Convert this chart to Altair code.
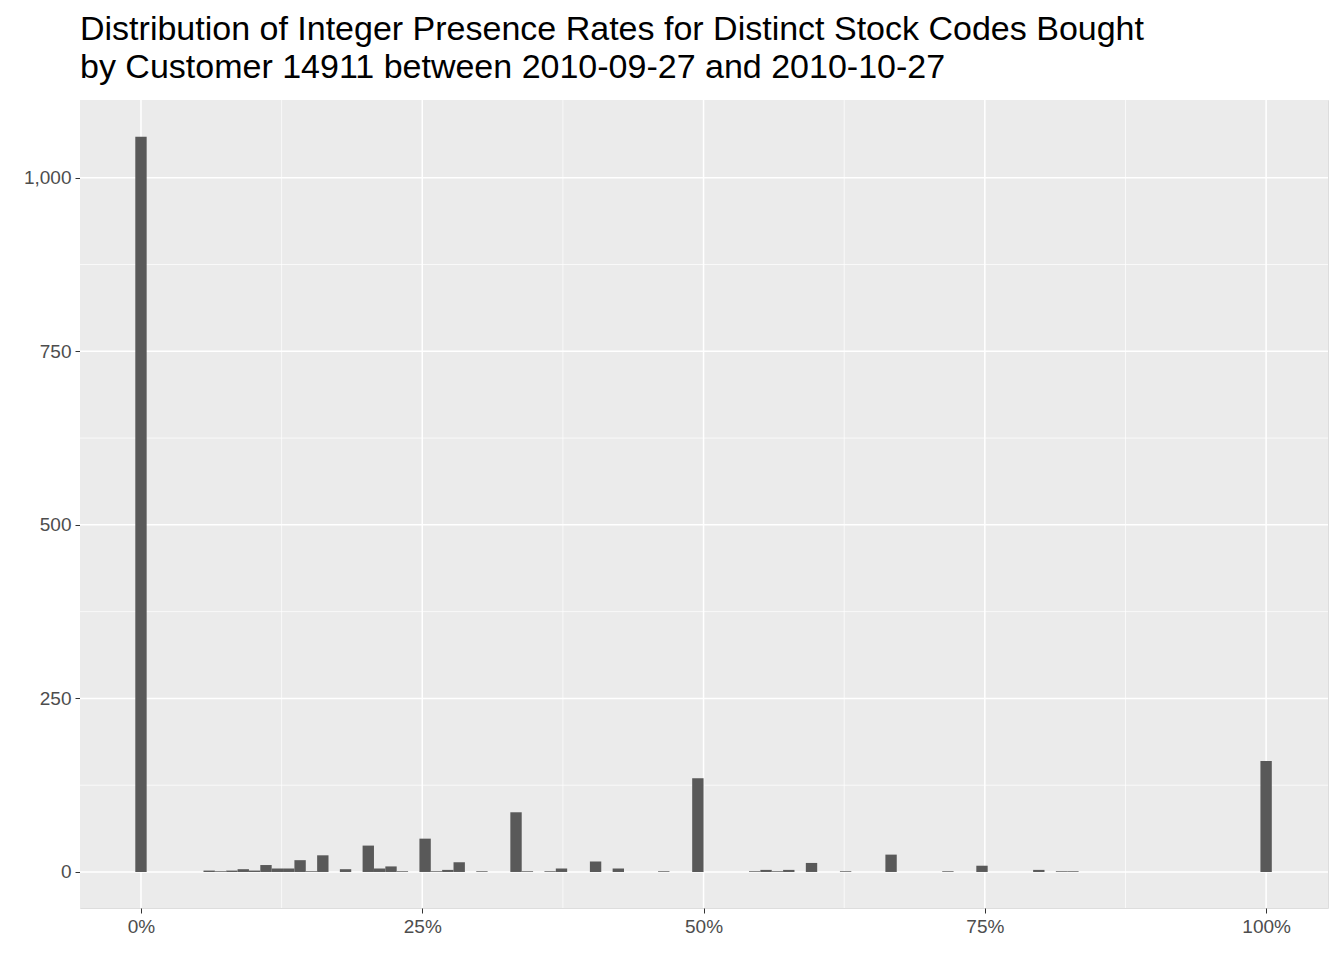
import altair as alt
import pandas as pd

bin_index = [0, 6, 7, 8, 9, 10, 11, 12, 13, 14, 15, 16, 18, 20, 21, 22, 23, 25, 26, 27, 28, 30, 33, 34,
             36, 37, 40, 42, 46, 49, 54, 55, 56, 57, 59, 62, 66, 71, 74, 79, 81, 82, 99]
counts = [1059, 2, 1, 2, 4, 2, 10, 5, 5, 17, 1, 24, 4, 38, 5, 8, 1, 48, 1, 3, 14, 1, 86, 1,
          1, 5, 15, 5, 1, 135, 1, 3, 1, 3, 13, 1, 25, 1, 9, 3, 1, 1, 160]
x_ticks = [0, 25, 50, 75, 100]
x_minor = [12.5, 37.5, 62.5, 87.5]
y_ticks = [0, 250, 500, 750, 1000]
y_minor = [125, 375, 625, 875]

w = 100 / 99
df = pd.DataFrame({"k": bin_index, "count": counts})
df["x0"] = df["k"] * w - w / 2
df["x1"] = df["k"] * w + w / 2

xs = alt.Scale(domain=[-5.42, 105.5], nice=False, zero=False)
ys = alt.Scale(domain=[-51.9, 1112], nice=False, zero=False)

xaxis = alt.Axis(values=x_ticks, labelExpr="datum.value + '%'", grid=False, title=None,
                 domain=False, tickColor="#333333", tickSize=5, labelColor="#4D4D4D",
                 labelFontSize=19, labelFont="Liberation Sans", labelPadding=4)
yaxis = alt.Axis(values=y_ticks, grid=False, title=None, domain=False, tickColor="#333333",
                 tickSize=5, labelColor="#4D4D4D", labelFontSize=19, labelFont="Liberation Sans",
                 labelPadding=4)

bg = alt.Chart(pd.DataFrame({"v": [0]})).mark_rect(color="#EBEBEB").encode(
    x=alt.value(0), x2=alt.value(1248), y=alt.value(0), y2=alt.value(808))
major_v = alt.Chart(pd.DataFrame({"v": x_ticks})).mark_rule(color="white", strokeWidth=1.5).encode(
    x=alt.X("v:Q", scale=xs, axis=xaxis))
major_h = alt.Chart(pd.DataFrame({"v": y_ticks})).mark_rule(color="white", strokeWidth=1.5).encode(
    y=alt.Y("v:Q", scale=ys, axis=yaxis))
minor_v = alt.Chart(pd.DataFrame({"v": x_minor})).mark_rule(color="white", strokeWidth=0.7).encode(
    x=alt.X("v:Q", scale=xs))
minor_h = alt.Chart(pd.DataFrame({"v": y_minor})).mark_rule(color="white", strokeWidth=0.7).encode(
    y=alt.Y("v:Q", scale=ys))
bars = alt.Chart(df).mark_rect(color="#595959").encode(
    x=alt.X("x0:Q", scale=xs), x2="x1:Q",
    y=alt.Y("count:Q", scale=ys), y2=alt.datum(0))

chart = alt.layer(bg, major_v, major_h, minor_v, minor_h, bars).properties(
    width=1248, height=808,
    autosize=alt.AutoSizeParams(type="none"),
    padding={"left": 72, "top": 92, "right": 8, "bottom": 44},
    title=alt.TitleParams(
        ["Distribution of Integer Presence Rates for Distinct Stock Codes Bought",
         "\u00a0by Customer 14911 between 2010-09-27 and 2010-10-27"],
        anchor="start", frame="group", font="Liberation Sans", fontSize=34, fontWeight="normal",
        color="black", lineHeight=38, offset=14),
).configure_view(stroke=None).configure(background="white")

chart.save("out.html", embed_options={"renderer": "svg", "actions": False})
